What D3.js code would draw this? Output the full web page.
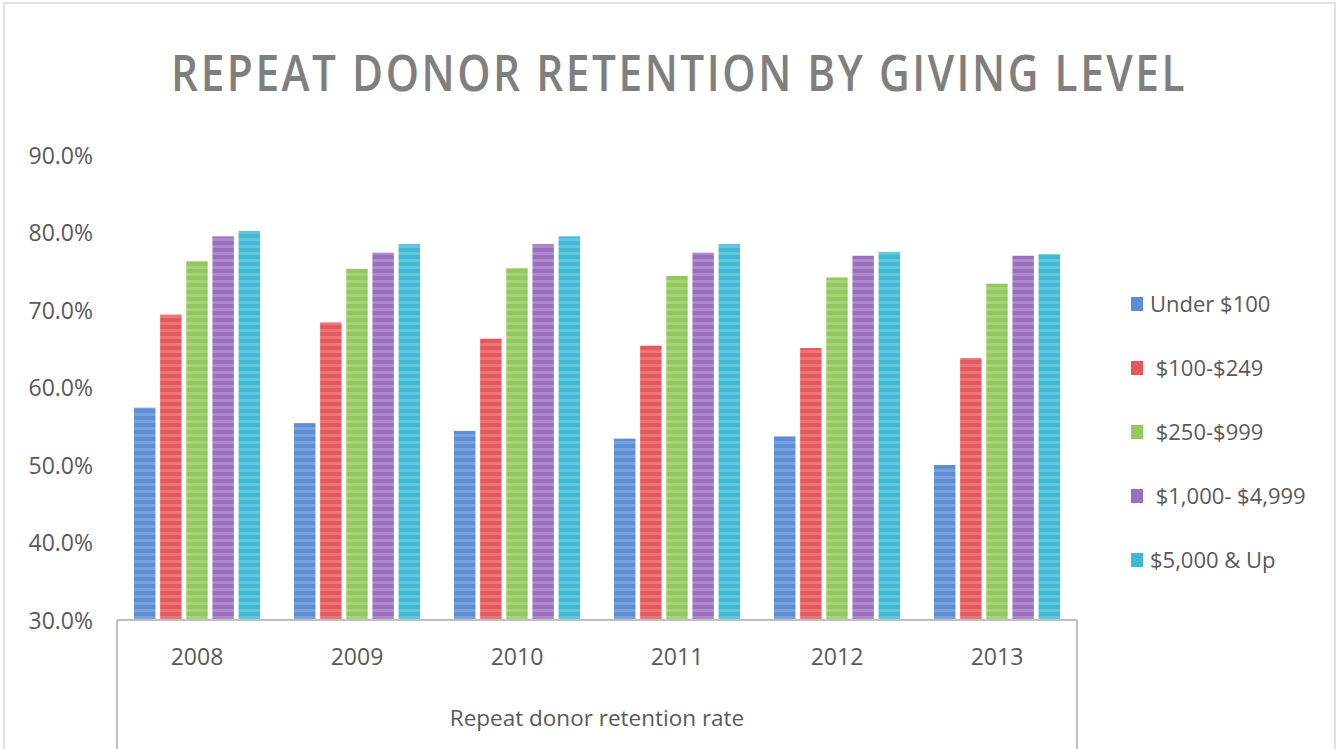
<!DOCTYPE html>
<html><head><meta charset="utf-8">
<script src="https://cdn.jsdelivr.net/npm/d3@7"></script>
<style>html,body{margin:0;padding:0;background:#fff;}svg{display:block;}</style>
</head><body>
<svg id="c" width="1338" height="749"></svg>
<script>
const years = ["2008","2009","2010","2011","2012","2013"];
const seriesNames = ["Under $100"," $100-$249"," $250-$999"," $1,000- $4,999","$5,000 & Up"];
const under100   = [57.4, 55.4, 54.4, 53.4, 53.7, 50.0];
const from100    = [69.4, 68.4, 66.3, 65.4, 65.1, 63.8];
const from250    = [76.3, 75.3, 75.4, 74.4, 74.2, 73.4];
const from1000   = [79.5, 77.4, 78.5, 77.4, 77.0, 77.0];
const from5000   = [80.2, 78.5, 79.5, 78.5, 77.5, 77.2];
const yTicks = [30, 40, 50, 60, 70, 80, 90];
const colors = ["#5b8ed6", "#e5585c", "#93c95c", "#9b6fc0", "#3fbad6"];
const seriesValues = [under100, from100, from250, from1000, from5000];

const svg = d3.select("#c");
const textColor = "#595959";
const font = "'Open Sans', sans-serif";

// outer border
svg.append("rect").attr("x",4).attr("y",3).attr("width",1331).attr("height",760)
  .attr("fill","none").attr("stroke","#d9d9d9").attr("stroke-width",1.5);

// patterns
const defs = svg.append("defs");
colors.forEach((c,i)=>{
  const p = defs.append("pattern").attr("id","pat"+i).attr("patternUnits","userSpaceOnUse")
    .attr("width",8).attr("height",7);
  p.append("rect").attr("width",8).attr("height",7).attr("fill",c);
  p.append("rect").attr("y",0).attr("width",8).attr("height",3).attr("fill","#ffffff").attr("opacity",0.18);
});

const x0 = d3.scaleBand().domain(years).range([117, 1077]).paddingInner(0).paddingOuter(0);
const x1 = d3.scaleBand().domain(d3.range(seriesNames.length)).range([17, 143]).paddingInner(0.18);
const y = d3.scaleLinear().domain([30, 90]).range([620, 155]);

// title (condensed horizontally to match the reference width)
const title = svg.append("text").attr("x",0).attr("y",0).attr("text-anchor","middle")
  .attr("font-family",font).attr("font-weight",600).attr("font-size",50)
  .attr("fill","#7f7f7f").attr("letter-spacing","3px")
  .text("REPEAT DONOR RETENTION BY GIVING LEVEL");
const tw = title.node().getComputedTextLength();
const sx = Math.min(1, 1016 / tw);
title.attr("transform", `translate(679,91) scale(${sx},1)`);

// y axis
const yAxis = d3.axisLeft(y).tickValues(yTicks).tickSize(0).tickPadding(0)
  .tickFormat(d=>d3.format(".1f")(d)+"%");
const ya = svg.append("g").attr("transform","translate(93,0)").call(yAxis);
ya.select(".domain").remove();
ya.selectAll("text").attr("font-family",font).attr("font-size",23).attr("fill",textColor)
  .attr("dy","0.35em");

// bars
const groups = svg.append("g").selectAll("g").data(years).join("g")
  .attr("transform", d=>`translate(${x0(d)},0)`);
groups.selectAll("rect").data((d,yi)=>seriesValues.map((s,si)=>({si, v:s[yi]})))
  .join("rect")
  .attr("x", d=>x1(d.si)).attr("width", x1.bandwidth())
  .attr("y", d=>y(d.v)).attr("height", d=>y(30)-y(d.v))
  .attr("fill", d=>`url(#pat${d.si})`);

// x axis box
const axisColor = "#bfbfbf";
svg.append("line").attr("x1",x0.range()[0]).attr("x2",x0.range()[1]).attr("y1",y(30)).attr("y2",y(30))
  .attr("stroke",axisColor).attr("stroke-width",2);
[x0.range()[0], x0.range()[1]].forEach(xx=>{
  svg.append("line").attr("x1",xx).attr("x2",xx).attr("y1",y(30)).attr("y2",749)
    .attr("stroke",axisColor).attr("stroke-width",2);
});
const xAxis = d3.axisBottom(x0).tickSize(0).tickPadding(0);
const xa = svg.append("g").attr("transform",`translate(0,${y(30)})`).call(xAxis);
xa.select(".domain").remove();
xa.selectAll("text").attr("font-family",font).attr("font-size",23).attr("fill",textColor)
  .attr("dy","0").attr("y",45);

svg.append("text").attr("x",597).attr("y",726).attr("text-anchor","middle")
  .attr("font-family",font).attr("font-size",22.5).attr("fill",textColor)
  .text("Repeat donor retention rate");

// legend
const lg = svg.append("g").selectAll("g").data(seriesNames).join("g")
  .attr("transform",(d,i)=>`translate(1131,${304+i*64})`);
lg.append("rect").attr("x",0).attr("y",-7).attr("width",12).attr("height",14)
  .attr("fill",(d,i)=>colors[i]);
lg.append("text").attr("x",19).attr("y",0).attr("dy","0.35em")
  .attr("font-family",font).attr("font-size",22).attr("fill",textColor)
  .style("white-space","pre").text(d=>d);
</script>
</body></html>
